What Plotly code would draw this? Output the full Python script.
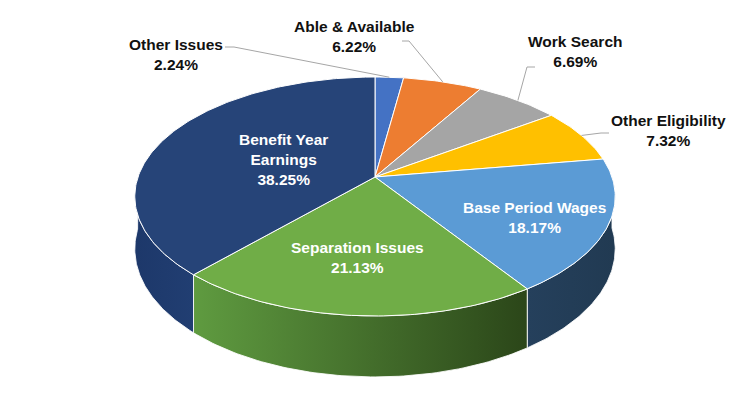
import numpy as np
import plotly.graph_objects as go

# ---- data ----
categories = ["Other Issues", "Able & Available", "Work Search", "Other Eligibility",
              "Base Period Wages", "Separation Issues", "Benefit Year Earnings"]
values = [2.24, 6.22, 6.69, 7.32, 18.17, 21.13, 38.25]
top_colors = ["#4472C4", "#ED7D31", "#A5A5A5", "#FFC000", "#5B9BD5", "#70AD47", "#264478"]
side_scales = [
    [[0, "#34599A"], [1, "#2A4880"]],
    [[0, "#B95F22"], [1, "#9A4E1B"]],
    [[0, "#828282"], [1, "#6C6C6C"]],
    [[0, "#C79600"], [1, "#A57C00"]],
    [[0, "#25405C"], [1, "#213A52"]],
    [[0, "#5F9B40"], [1, "#2B4619"]],
    [[0, "#1D386A"], [1, "#213E72"]],
]
label_text = ["Other Issues<br>2.24%", "Able & Available<br>6.22%", "Work Search<br>6.69%",
              "Other Eligibility<br>7.32%", "Base Period Wages<br>18.17%",
              "Separation Issues<br>21.13%", "Benefit Year<br>Earnings<br>38.25%"]

# ---- geometry of the pseudo-3D pie (pixel space) ----
CX, CY = 375.0, 177.0
RX, RY = 237.0, 116.3
PERSP = 6.13
DEPTH = 51.0

def proj(theta_deg, drop=0.0):
    t = np.radians(theta_deg)
    u = np.sin(t)
    v = -np.cos(t)
    s = PERSP / (PERSP - v)
    return CX + RX * u * s, CY + RY * v * s + drop * s

total = sum(values)
cum = np.concatenate([[0], np.cumsum(values)])
starts = cum[:-1] / total * 360.0
ends = cum[1:] / total * 360.0

fig = go.Figure()

# sides (front-facing part only)
for i in range(len(values)):
    a0, a1 = max(starts[i], 90.0), min(ends[i], 270.0)
    if a1 <= a0:
        continue
    th = np.linspace(a0, a1, 80)
    xt, yt = proj(th)
    xb, yb = proj(th[::-1], DEPTH)
    xs = np.concatenate([xt, xb, xt[:1]])
    ys = np.concatenate([yt, yb, yt[:1]])
    fig.add_trace(go.Scatter(
        x=xs, y=ys, mode="lines", fill="toself",
        fillgradient=dict(type="horizontal", colorscale=side_scales[i]),
        line=dict(color="rgba(255,255,255,0.85)", width=1),
        hoverinfo="skip", showlegend=False))

# top faces
for i in range(len(values)):
    th = np.linspace(starts[i], ends[i], max(8, int(values[i] * 4)))
    xa, ya = proj(th)
    xs = np.concatenate([[CX], xa, [CX]])
    ys = np.concatenate([[CY], ya, [CY]])
    fig.add_trace(go.Scatter(
        x=xs, y=ys, mode="lines", fill="toself", fillcolor=top_colors[i],
        line=dict(color="white", width=1),
        hoverinfo="skip", showlegend=False, name=categories[i]))

FONT = "Liberation Sans, Arial, sans-serif"

# outside labels with leader lines
outside = {
    0: dict(pos=(176, 54), elbow=[(225, 47), (234, 47)]),
    1: dict(pos=(354, 36), elbow=[(402, 41), (409, 41)]),
    2: dict(pos=(575, 51), elbow=[(535, 67), (527, 67)]),
    3: dict(pos=(668, 130), elbow=[(609, 133), (601, 133)]),
}
for i, o in outside.items():
    mid = (starts[i] + ends[i]) / 2
    ex, ey = proj(mid)
    lx = [p[0] for p in o["elbow"]] + [ex]
    ly = [p[1] for p in o["elbow"]] + [ey]
    fig.add_trace(go.Scatter(x=lx, y=ly, mode="lines",
                             line=dict(color="#A6A6A6", width=1),
                             hoverinfo="skip", showlegend=False))
    fig.add_annotation(x=o["pos"][0], y=o["pos"][1], text="<b>%s</b>" % label_text[i],
                       showarrow=False, xanchor="center", yanchor="middle",
                       font=dict(family=FONT, size=15.5, color="#111111"))

inside = {4: (534, 217), 5: (357, 257), 6: (283, 159)}
for i, p in inside.items():
    fig.add_annotation(x=p[0], y=p[1], text="<b>%s</b>" % label_text[i],
                       showarrow=False, xanchor="center", yanchor="middle",
                       font=dict(family=FONT, size=15.5, color="white"))

fig.update_layout(
    width=750, height=397,
    margin=dict(l=0, r=0, t=0, b=0),
    paper_bgcolor="white", plot_bgcolor="white",
    xaxis=dict(range=[0, 750], visible=False, fixedrange=True),
    yaxis=dict(range=[397, 0], visible=False, fixedrange=True),
    showlegend=False,
)

fig.write_html("out.html", config={"displayModeBar": False},
               post_script="document.body.style.margin='0';document.body.style.overflow='hidden';")
